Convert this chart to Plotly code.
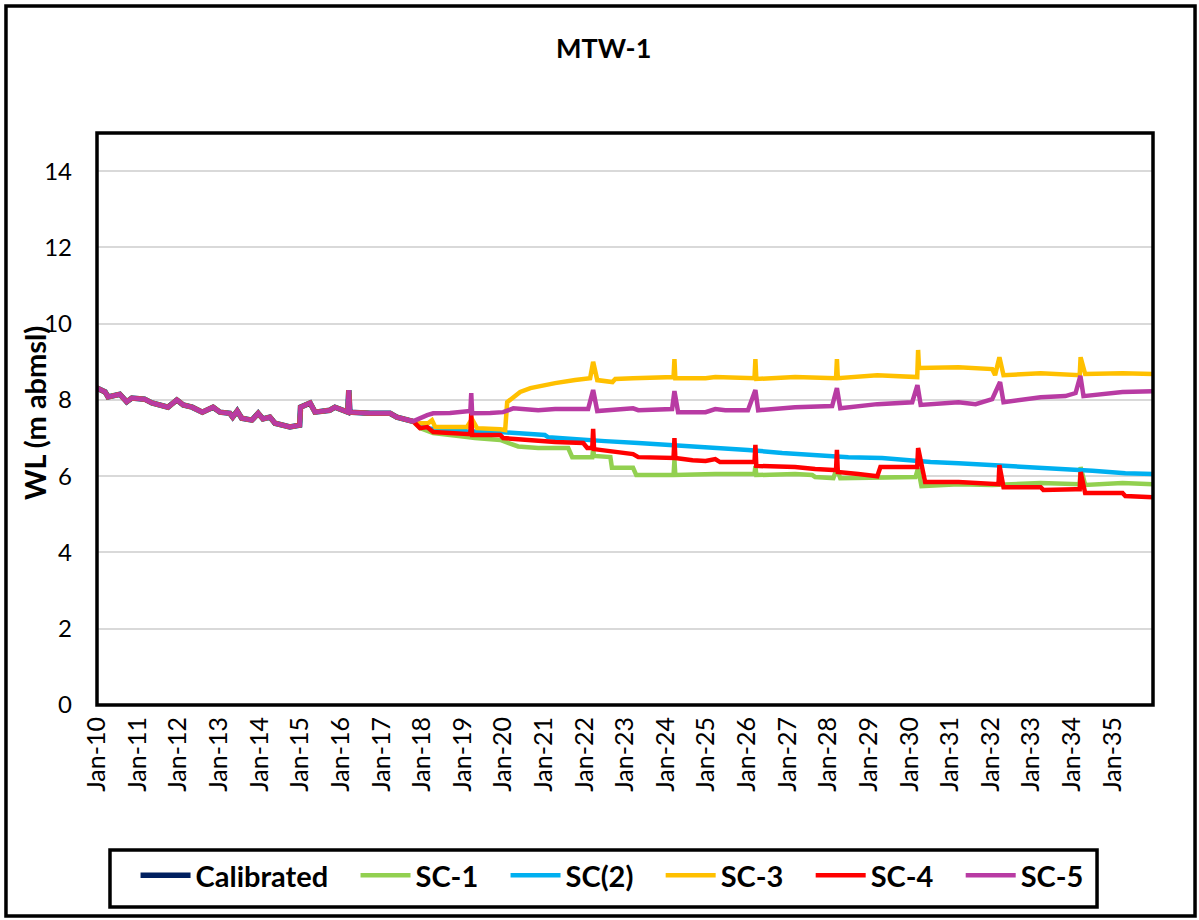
import plotly.graph_objects as go

# Observed record shared by every run (Calibrated period)
hist_dates = ["2010-01-01", "2010-03-15", "2010-04-10", "2010-07-25", "2010-09-25", "2010-11-10",
              "2011-03-05", "2011-05-10", "2011-10-01", "2011-12-20", "2012-02-15", "2012-05-05",
              "2012-08-05", "2012-11-10", "2013-01-10", "2013-04-10", "2013-05-05", "2013-06-15",
              "2013-07-25", "2013-10-25", "2013-12-20", "2014-02-01", "2014-04-05", "2014-05-20",
              "2014-10-01", "2014-12-10", "2014-12-28", "2015-01-05", "2015-04-01", "2015-05-15",
              "2015-09-25", "2015-11-10", "2016-03-04", "2016-03-14", "2016-03-24", "2016-09-20",
              "2016-12-20", "2017-03-20", "2017-05-20", "2017-10-12"]
hist_wl = [8.31, 8.21, 8.08, 8.15, 7.95, 8.05,
           8.02, 7.92, 7.81, 8.00, 7.87, 7.81,
           7.68, 7.81, 7.68, 7.65, 7.55, 7.71,
           7.52, 7.47, 7.65, 7.50, 7.55, 7.39,
           7.29, 7.34, 7.34, 7.81, 7.92, 7.68,
           7.73, 7.81, 7.68, 8.26, 7.68, 7.65,
           7.66, 7.65, 7.55, 7.44]

# SC-1 projection
sc1_dates = ["2017-12-14", "2018-04-12", "2019-02-10", "2019-04-22", "2019-12-06", "2020-04-19",
             "2020-05-15", "2020-11-11", "2021-08-08", "2021-09-13", "2022-03-12", "2022-03-20",
             "2022-03-28", "2022-08-22", "2022-09-05", "2023-03-14", "2023-04-12", "2024-03-12",
             "2024-03-20", "2024-03-28", "2025-03-22", "2026-03-10", "2026-03-18", "2026-03-26",
             "2027-03-10", "2027-08-11", "2027-09-06", "2028-02-17", "2028-03-20", "2028-04-19",
             "2030-02-25", "2030-03-20", "2030-04-19", "2031-03-18", "2032-01-15", "2033-03-26",
             "2034-03-12", "2034-03-20", "2034-04-30", "2035-04-01", "2035-12-31"]
sc1_wl = [7.26, 7.13, 7.03, 7.00, 6.95, 6.82,
          6.78, 6.74, 6.74, 6.50, 6.50, 6.71,
          6.53, 6.50, 6.22, 6.22, 6.03, 6.03,
          6.42, 6.03, 6.06, 6.06, 6.27, 6.03,
          6.06, 6.03, 5.98, 5.95, 6.21, 5.95,
          5.98, 6.21, 5.74, 5.79, 5.77, 5.82,
          5.79, 6.24, 5.77, 5.82, 5.79]

# SC(2) projection
sc2_dates = ["2018-03-14", "2019-02-10", "2019-12-06", "2021-01-10", "2021-02-10", "2021-09-13",
             "2022-07-05", "2023-04-30", "2024-02-28", "2025-05-04", "2026-01-10", "2026-11-14",
             "2027-09-06", "2028-07-01", "2029-04-30", "2030-07-09", "2031-03-18", "2032-01-15",
             "2032-11-11", "2033-09-02", "2034-07-05", "2035-04-26", "2035-12-31"]
sc2_wl = [7.25, 7.18, 7.16, 7.08, 7.02, 6.97,
          6.92, 6.87, 6.82, 6.74, 6.69, 6.61,
          6.55, 6.50, 6.48, 6.37, 6.34, 6.29,
          6.24, 6.21, 6.14, 6.08, 6.06]

# SC-3 projection
sc3_dates = ["2017-12-14", "2018-02-25", "2018-04-01", "2018-04-30", "2019-02-10", "2019-03-26",
             "2019-05-11", "2019-12-06", "2020-01-19", "2020-02-06", "2020-04-01", "2020-06-02",
             "2020-09-02", "2020-11-11", "2021-04-12", "2021-10-09", "2022-02-21", "2022-03-20",
             "2022-04-26", "2022-09-10", "2022-10-05", "2023-03-14", "2023-09-28", "2024-03-12",
             "2024-03-20", "2024-03-28", "2024-12-25", "2025-03-22", "2026-03-10", "2026-03-18",
             "2026-03-26", "2027-03-10", "2028-03-12", "2028-03-20", "2028-03-28", "2029-03-18",
             "2030-03-12", "2030-03-20", "2030-03-28", "2031-03-18", "2032-01-15", "2032-02-10",
             "2032-03-20", "2032-04-26", "2033-03-26", "2034-03-12", "2034-03-20", "2034-04-30",
             "2035-04-01", "2035-12-31"]
sc3_wl = [7.39, 7.39, 7.47, 7.29, 7.29, 7.50,
          7.26, 7.23, 7.21, 7.94, 8.07, 8.21,
          8.31, 8.36, 8.44, 8.52, 8.57, 9.00,
          8.52, 8.47, 8.55, 8.57, 8.60, 8.60,
          9.07, 8.57, 8.57, 8.60, 8.57, 9.07,
          8.55, 8.60, 8.57, 9.07, 8.57, 8.65,
          8.60, 9.31, 8.84, 8.86, 8.81, 8.65,
          9.12, 8.65, 8.70, 8.65, 9.12, 8.68,
          8.70, 8.68]

# SC-4 projection
sc4_dates = ["2017-10-31", "2017-12-14", "2018-02-17", "2018-04-12", "2018-09-10", "2019-02-10",
             "2019-03-12", "2019-03-20", "2019-03-28", "2019-12-06", "2020-01-01", "2020-05-15",
             "2020-11-11", "2021-04-12", "2021-12-21", "2022-01-26", "2022-03-12", "2022-03-20",
             "2022-03-28", "2022-10-05", "2023-03-14", "2023-04-30", "2023-12-03", "2024-03-12",
             "2024-03-20", "2024-03-28", "2024-08-30", "2024-12-25", "2025-03-22", "2025-05-04",
             "2026-01-10", "2026-03-10", "2026-03-18", "2026-03-26", "2027-03-10", "2027-04-26",
             "2027-09-06", "2028-02-17", "2028-03-12", "2028-03-20", "2028-03-28", "2028-09-28",
             "2029-03-18", "2029-04-15", "2030-02-25", "2030-03-12", "2030-03-20", "2030-04-26",
             "2030-05-22", "2031-03-18", "2032-01-15", "2032-03-12", "2032-03-20", "2032-04-26",
             "2033-03-26", "2033-04-19", "2034-02-03", "2034-03-12", "2034-03-20", "2034-04-30",
             "2035-04-01", "2035-04-26", "2035-12-31"]
sc4_wl = [7.39, 7.26, 7.29, 7.16, 7.13, 7.10,
          7.10, 7.65, 7.08, 7.08, 7.00, 6.97,
          6.92, 6.90, 6.87, 6.74, 6.74, 7.24,
          6.71, 6.63, 6.58, 6.50, 6.48, 6.48,
          7.00, 6.48, 6.42, 6.40, 6.45, 6.37,
          6.37, 6.37, 6.82, 6.27, 6.24, 6.22,
          6.19, 6.16, 6.16, 6.69, 6.11, 6.06,
          6.00, 6.24, 6.24, 6.24, 6.74, 6.16,
          5.85, 5.85, 5.79, 5.79, 6.29, 5.71,
          5.71, 5.64, 5.66, 5.66, 6.11, 5.56,
          5.56, 5.48, 5.45]

# SC-5 projection
sc5_dates = ["2018-02-17", "2018-04-12", "2018-09-10", "2019-02-10", "2019-03-12", "2019-03-20",
             "2019-03-28", "2019-09-06", "2020-01-01", "2020-04-01", "2020-11-11", "2021-04-12",
             "2022-02-03", "2022-03-20", "2022-04-26", "2023-03-14", "2023-04-30", "2024-02-28",
             "2024-03-20", "2024-04-22", "2024-12-25", "2025-03-22", "2025-06-20", "2026-01-10",
             "2026-03-18", "2026-04-12", "2027-03-10", "2028-02-06", "2028-03-20", "2028-04-19",
             "2029-03-18", "2030-01-26", "2030-03-14", "2030-04-12", "2031-03-18", "2031-08-19",
             "2032-01-15", "2032-03-26", "2032-04-26", "2033-03-26", "2033-11-03", "2034-02-03",
             "2034-03-18", "2034-04-15", "2035-04-01", "2035-12-31"]
sc5_wl = [7.60, 7.65, 7.66, 7.71, 7.71, 8.18,
          7.65, 7.66, 7.68, 7.78, 7.73, 7.76,
          7.76, 8.26, 7.71, 7.78, 7.73, 7.76,
          8.23, 7.68, 7.68, 7.76, 7.73, 7.73,
          8.26, 7.73, 7.81, 7.84, 8.31, 7.78,
          7.89, 7.94, 8.39, 7.87, 7.94, 7.89,
          8.02, 8.47, 7.94, 8.07, 8.10, 8.18,
          8.63, 8.10, 8.21, 8.23]

series = [
    ("Calibrated", "#002060", 5.5, [], []),
    ("SC-1", "#92D050", 4.5, sc1_dates, sc1_wl),
    ("SC(2)", "#00B0F0", 4.5, sc2_dates, sc2_wl),
    ("SC-3", "#FFC000", 4.5, sc3_dates, sc3_wl),
    ("SC-4", "#FF0000", 4.5, sc4_dates, sc4_wl),
    ("SC-5", "#B83BA3", 4.5, sc5_dates, sc5_wl),
]

FONT = "Lato"
PAD = "\u00a0\u00a0\u00a0"  # trailing gap between legend entries

fig = go.Figure()
for name, color, width, d, v in series:
    fig.add_trace(go.Scatter(
        x=hist_dates + d, y=hist_wl + v, mode="lines",
        name="<b>" + name + "</b>" + PAD,
        line=dict(color=color, width=width),
    ))

fig.update_layout(
    width=1199, height=920,
    margin=dict(l=97, r=46, t=133, b=215),
    paper_bgcolor="white", plot_bgcolor="white",
    font=dict(family=FONT, color="black"),
    showlegend=True,
    legend=dict(
        orientation="h", x=0.0365, xanchor="left", y=-0.2535, yanchor="top",
        font=dict(family=FONT, size=29, color="black"),
        borderwidth=0, bgcolor="rgba(0,0,0,0)",
        itemwidth=50, traceorder="normal",
    ),
    xaxis=dict(
        type="date", range=["2010-01-01", "2035-12-31"],
        tick0="2010-01-01", dtick="M12", tickformat="%b-%y",
        tickangle=-90, showgrid=False, zeroline=False, showline=False,
        ticks="", ticklabelstandoff=6,
        tickfont=dict(family=FONT, size=25, color="black"),
    ),
    yaxis=dict(
        range=[0, 15], dtick=2, tick0=0, showgrid=True, gridcolor="#D9D9D9", gridwidth=2,
        zeroline=False, showline=False, ticks="", ticklabelstandoff=24,
        tickfont=dict(family=FONT, size=24, color="black"),
    ),
)

fig.add_annotation(text="<b>MTW-1</b>", xref="paper", yref="paper", x=0.48, y=1.149,
                   xanchor="center", yanchor="middle",
                   showarrow=False, font=dict(family=FONT, size=27, color="black"))
fig.add_annotation(text="<b>WL (m abmsl)</b>", xref="paper", yref="paper", x=-0.0587, y=0.5105,
                   xanchor="center", yanchor="middle",
                   textangle=-90, showarrow=False, font=dict(family=FONT, size=29, color="black"))

# plot-area frame, legend box and outer chart frame
fig.add_shape(type="rect", xref="paper", yref="paper", x0=0, x1=1, y0=0, y1=1,
              line=dict(color="black", width=3.5), layer="above")
fig.add_shape(type="rect", xref="paper", yref="paper", x0=0.0123, x1=0.9470, y0=-0.3532, y1=-0.2535,
              line=dict(color="black", width=3.5), layer="above")
fig.add_shape(type="rect", xref="paper", yref="paper", x0=-0.0862, x1=1.0398, y0=-0.369, y1=1.222,
              line=dict(color="black", width=3.5), layer="above")

fig.write_html("out.html")
